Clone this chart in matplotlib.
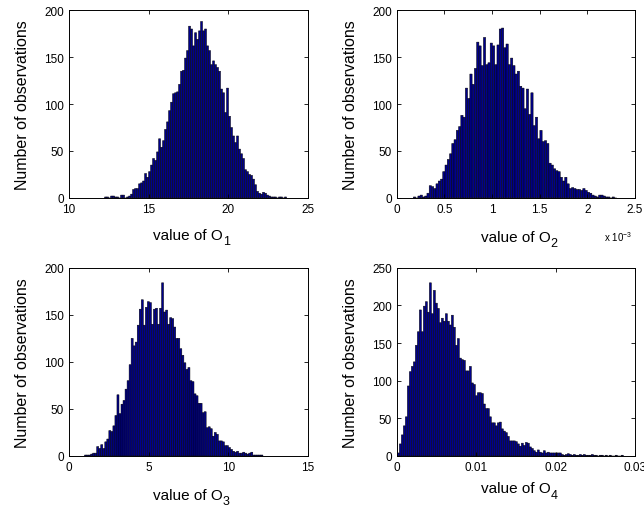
import numpy as np
import matplotlib
matplotlib.use("Agg")
import matplotlib.pyplot as plt

plt.rcParams['font.family'] = ['Liberation Sans', 'DejaVu Sans']
plt.rcParams['mathtext.fontset'] = 'custom'
plt.rcParams['mathtext.rm'] = 'Liberation Sans'
plt.rcParams['mathtext.it'] = 'Liberation Sans'

# Histogram counts for each output quantity (first bin edge, last bin edge, counts)
o1_range = (12.24, 23.66)
o1_counts = [1, 1, 0, 2, 2, 1, 1, 0, 3, 3, 0, 1, 2, 4, 9, 10, 10, 15, 16, 18,
             26, 22, 28, 35, 42, 40, 49, 63, 54, 61, 73, 81, 93, 102, 111, 112, 113, 121, 135, 136,
             149, 157, 183, 180, 162, 176, 169, 178, 188, 178, 180, 162, 157, 142, 146, 142, 139, 135, 116, 112,
             91, 117, 87, 75, 66, 59, 66, 52, 47, 42, 30, 28, 25, 24, 20, 14, 7, 5, 4, 6,
             5, 3, 2, 1, 1, 1, 0, 1, 1, 0, 1]

o2_range = (0.175, 2.308)  # in units of 1e-3
o2_counts = [1, 0, 2, 3, 1, 2, 5,
             13, 12, 10, 15, 18, 20, 28, 35, 41, 47,
             58, 62, 72, 76, 88, 86, 117, 106, 132, 121,
             138, 166, 162, 141, 171, 142, 144, 165, 162, 142,
             163, 180, 181, 160, 164, 142, 149, 141, 132, 135,
             119, 117, 95, 116, 89, 112, 77, 86, 63, 72,
             60, 61, 58, 37, 35, 31, 29, 28, 22, 18,
             22, 15, 10, 11, 10, 9, 9, 8, 10, 8,
             6, 5, 3, 2, 1, 3, 3, 2, 1, 1,
             0, 1, 0]

o3_range = (0.98, 12.18)
o3_counts = [1, 1, 1, 2, 3, 3,
             10, 8, 12, 8, 15, 18, 27, 26, 32, 43,
             65, 45, 55, 59, 71, 80, 97, 125, 117, 121,
             139, 156, 166, 139, 158, 164, 163, 140, 156, 157,
             140, 157, 184, 153, 155, 140, 147, 146, 137, 125,
             125, 114, 107, 99, 92, 94, 80, 79, 66, 64,
             56, 56, 46, 47, 30, 31, 29, 21, 25, 23,
             16, 16, 15, 11, 11, 9, 7, 5, 4, 5,
             3, 3, 4, 3, 2, 3, 4, 1, 1, 1,
             1, 1]

o4_range = (0.000084, 0.02853)
o4_counts = [4, 16, 28, 40, 52, 93, 112, 119, 125, 147,
             165, 194, 165, 199, 205, 191, 230, 189, 220, 203,
             196, 177, 183, 179, 189, 179, 174, 187, 171, 147,
             156, 130, 128, 127, 113, 113, 119, 97, 95, 80,
             84, 84, 83, 69, 63, 63, 52, 44, 44, 40,
             44, 45, 36, 33, 31, 26, 20, 20, 20, 19,
             16, 13, 17, 14, 18, 17, 12, 10, 7, 5,
             8, 5, 4, 7, 4, 5, 4, 4, 4, 4,
             4, 4, 2, 1, 2, 3, 2, 1, 2, 1,
             1, 2, 1, 2, 1, 1, 1, 2, 1,
             1, 0, 1, 1, 0, 1, 0, 1, 0, 0, 1, 0, 0, 1]

panels = [
    dict(rng=o1_range, counts=o1_counts, xlim=(10, 25), xticks=[10, 15, 20, 25],
         xticklabels=['10', '15', '20', '25'], ylim=(0, 200), yticks=[0, 50, 100, 150, 200],
         sub='1', pos=[0.107, 0.610, 0.371, 0.368], lab_y=-0.16),
    dict(rng=o2_range, counts=o2_counts, xlim=(0, 2.5), xticks=[0, 0.5, 1, 1.5, 2, 2.5],
         xticklabels=['0', '0.5', '1', '1.5', '2', '2.5'], ylim=(0, 200), yticks=[0, 50, 100, 150, 200],
         sub='2', pos=[0.616, 0.610, 0.370, 0.368], lab_y=-0.17),
    dict(rng=o3_range, counts=o3_counts, xlim=(0, 15), xticks=[0, 5, 10, 15],
         xticklabels=['0', '5', '10', '15'], ylim=(0, 200), yticks=[0, 50, 100, 150, 200],
         sub='3', pos=[0.107, 0.104, 0.371, 0.369], lab_y=-0.17),
    dict(rng=o4_range, counts=o4_counts, xlim=(0, 0.03), xticks=[0, 0.01, 0.02, 0.03],
         xticklabels=['0', '0.01', '0.02', '0.03'], ylim=(0, 250), yticks=[0, 50, 100, 150, 200, 250],
         sub='4', pos=[0.616, 0.104, 0.370, 0.369], lab_y=-0.135),
]

fig = plt.figure(figsize=(6.44, 5.10), dpi=100)

for p in panels:
    ax = fig.add_axes(p['pos'])
    counts = np.asarray(p['counts'], dtype=float)
    edges = np.linspace(p['rng'][0], p['rng'][1], len(counts) + 1)
    ax.bar(edges[:-1], counts, width=np.diff(edges), align='edge',
           color='#00008c', edgecolor='black', linewidth=0.35, snap=False)
    ax.set_xlim(*p['xlim'])
    ax.set_ylim(*p['ylim'])
    ax.set_xticks(p['xticks'])
    ax.set_xticklabels(p['xticklabels'])
    ax.set_yticks(p['yticks'])
    ax.tick_params(direction='in', top=True, right=True, length=3, width=0.6,
                   labelsize=8.5, pad=3.5)
    for s in ax.spines.values():
        s.set_linewidth(0.7)
    # x label with a lowered subscript
    lab = ax.set_xlabel('value of O', fontsize=11)
    ax.xaxis.set_label_coords(0.5, p['lab_y'])
    lab.set_va('top')
    ax.annotate(p['sub'], xy=(1, 0), xycoords=lab, xytext=(-0.2, 0.4),
                textcoords='offset points', fontsize=9, ha='left', va='center')
    ax.set_ylabel('Number of observations', fontsize=11.5)
    ax.yaxis.set_label_coords(-0.163, 0.5)

fig.text(0.938, 0.535, r'x 10$^{-3}$', fontsize=7, ha='left', va='center')

fig.savefig('out.png', dpi=100)
